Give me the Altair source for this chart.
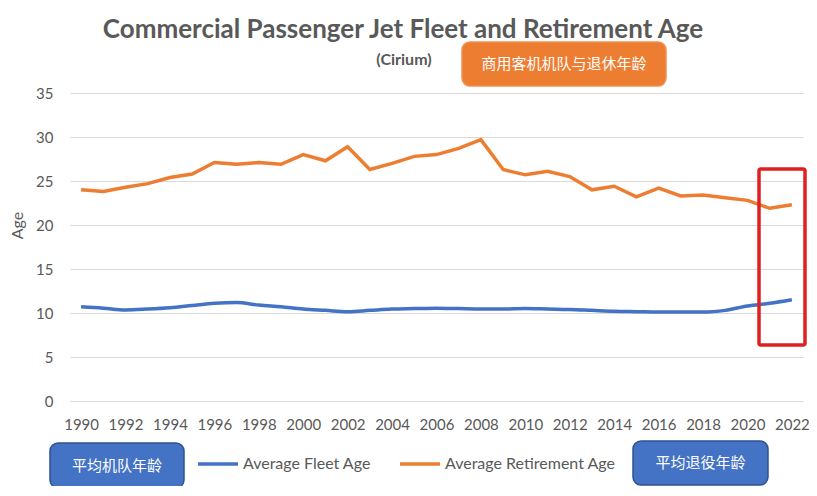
import altair as alt
import pandas as pd

years = list(range(1990, 2023))
fleet_age = [10.7, 10.55, 10.35, 10.45, 10.6, 10.85, 11.1, 11.2, 10.9, 10.7, 10.45,
             10.3, 10.15, 10.3, 10.45, 10.5, 10.55, 10.5, 10.45, 10.45, 10.5, 10.45,
             10.4, 10.3, 10.2, 10.15, 10.1, 10.1, 10.1, 10.3, 10.8, 11.1, 11.5]
retire_age = [24.0, 23.8, 24.3, 24.7, 25.4, 25.8, 27.1, 26.9, 27.1, 26.9, 28.0,
              27.3, 28.9, 26.3, 27.0, 27.8, 28.0, 28.7, 29.7, 26.3, 25.7, 26.1,
              25.5, 24.0, 24.4, 23.2, 24.2, 23.3, 23.4, 23.1, 22.8, 21.9, 22.3]
series_names = ["Average Fleet Age", "Average Retirement Age"]
colors = ["#4472C4", "#ED7D31"]
title_text = "Commercial Passenger Jet Fleet and Retirement Age"
subtitle_text = "(Cirium)"

df = pd.DataFrame({
    "year": years * 2,
    "age": fleet_age + retire_age,
    "series": [series_names[0]] * len(years) + [series_names[1]] * len(years),
})

GRAY = "#595959"
FONT = "Lato"
CJK = "Noto Sans CJK SC"

x_enc = alt.X("year:Q", scale=alt.Scale(domain=[1989.5, 2022.5], nice=False, zero=False),
              axis=alt.Axis(values=list(range(1990, 2023, 2)), format="d", title=None,
                            grid=False, domain=False, ticks=False, labelPadding=16,
                            labelFontSize=15, labelColor=GRAY, labelFont=FONT))
y_enc = alt.Y("age:Q", scale=alt.Scale(domain=[0, 35], nice=False),
              axis=alt.Axis(values=list(range(0, 36, 5)), title="Age", grid=True,
                            gridColor="#d9d9d9", gridWidth=1.2, domain=False, ticks=False,
                            labelPadding=17, labelFontSize=15, labelColor=GRAY, labelFont=FONT,
                            titleFontSize=16, titleColor=GRAY, titleFont=FONT,
                            titleFontWeight="normal", titlePadding=10, titleY=132))
color_enc = alt.Color("series:N", scale=alt.Scale(domain=series_names, range=colors),
                      legend=alt.Legend(title=None, orient="none", legendX=126, legendY=349,
                                        direction="horizontal", symbolType="stroke",
                                        symbolSize=1600, symbolStrokeWidth=3.5,
                                        labelFontSize=16, labelColor=GRAY, labelFont=FONT,
                                        labelOffset=3, columnPadding=22, labelLimit=300))

base = alt.Chart(df)
fleet_line = base.transform_filter(alt.datum.series == series_names[0]).mark_line(
    strokeWidth=3.5, interpolate="monotone").encode(x=x_enc, y=y_enc, color=color_enc)
retire_line = base.transform_filter(alt.datum.series == series_names[1]).mark_line(
    strokeWidth=3.5).encode(x=x_enc, y=y_enc, color=color_enc)

one = alt.Data(values=[{"k": 0}])


def box(x0, x1, y0, y1, fill, stroke, label, fs):
    r = alt.Chart(one).mark_rect(fill=fill, stroke=stroke, strokeWidth=1.5, cornerRadius=8).encode(
        x=alt.value(x0), x2=alt.value(x1), y=alt.value(y0), y2=alt.value(y1))
    t = alt.Chart(one).mark_text(text=label, color="white", fontSize=fs, font=CJK,
                                 align="center", baseline="middle").encode(
        x=alt.value((x0 + x1) / 2), y=alt.value((y0 + y1) / 2))
    return r + t


orange_box = box(392, 596, -51, -7, "#ED7D31", "#F09050", "商用客机机队与退休年龄", 15)
blue_box1 = box(-20, 114, 350, 395, "#4472C4", "#2F528F", "平均机队年龄", 15)
blue_box2 = box(563, 698, 348, 392, "#4472C4", "#2F528F", "平均退役年龄", 15)

red_box = alt.Chart(one).mark_rect(fill=None, filled=False, stroke="#E02020", strokeWidth=3.5,
                                   cornerRadius=2).encode(
    x=alt.value(689), x2=alt.value(735), y=alt.value(76), y2=alt.value(252))

title_mark = alt.Chart(one).mark_text(text=title_text, fontSize=26, font=FONT, fontWeight="bold",
                                      color=GRAY, align="center", baseline="alphabetic").encode(
    x=alt.value(333), y=alt.value(-55))
subtitle_mark = alt.Chart(one).mark_text(text=subtitle_text, fontSize=16, font=FONT, fontWeight="bold",
                                         color=GRAY, align="center", baseline="alphabetic").encode(
    x=alt.value(334), y=alt.value(-28))

chart = alt.layer(fleet_line, retire_line, red_box, orange_box, blue_box1, blue_box2,
                  title_mark, subtitle_mark).properties(
    width=733, height=308,
    autosize=alt.AutoSizeParams(type="none"),
    padding={"left": 62, "top": 85, "right": 6, "bottom": 85},
).configure_view(stroke=None)

chart.save("out.html", embed_options={"renderer": "svg", "actions": False})
